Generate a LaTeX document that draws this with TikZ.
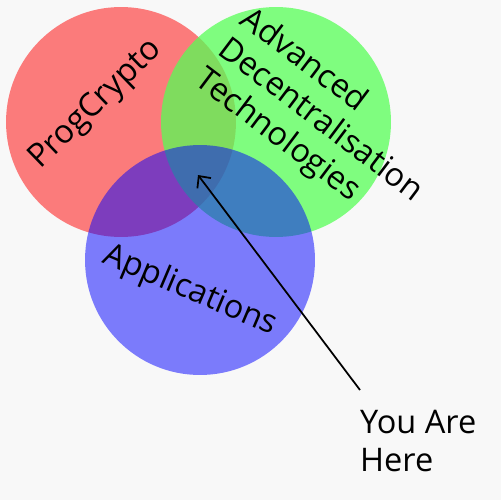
\documentclass[tikz,border=0pt]{standalone}
\usepackage{fontspec}
\usetikzlibrary{arrows.meta}
\setmainfont{Open Sans}
\definecolor{setgreen}{RGB}{85,255,85}
\definecolor{paper}{RGB}{248,248,248}
\begin{document}
\begin{tikzpicture}[
            x=0.02cm, y=-0.02cm,
            every node/.style={font=\fontsize{18.5}{21.5}\selectfont},
            set/.style={circle, minimum size=4.6cm, inner sep=0pt},
            arrow/.style={-{Straight Barb[length=1.8mm, width=3.4mm]}, line width=1pt, color=black}
        ]

        \useasboundingbox (0,0) rectangle (500,500);
        \fill[paper] (-2,-2) rectangle (502,502);

        \node[set, fill=red, fill opacity=0.5]         (prog) at (121,122) {};
        \node[set, fill=setgreen, fill opacity=0.74]   (adv)  at (276,122) {};
        \node[set, fill=blue, fill opacity=0.5]        (app)  at (200,260) {};

        % labels turned along each circle
        \node[rotate=44] (proglbl) at (96,105) {ProgCrypto};
        \node[rotate=-37, align=left] (advlbl) at (320,121) {Advanced\\Decentralisation\\Technologies};
        \node[rotate=-23] (applbl) at (190,291) {Applications};

        \node[align=left, anchor=north west] (here) at (354,404) {You Are\\Here};
        \coordinate (spot) at (198,175);

        \draw[arrow] ([shift={(6,-14)}]here.north west) -- (spot);

    \end{tikzpicture}
\end{document}
